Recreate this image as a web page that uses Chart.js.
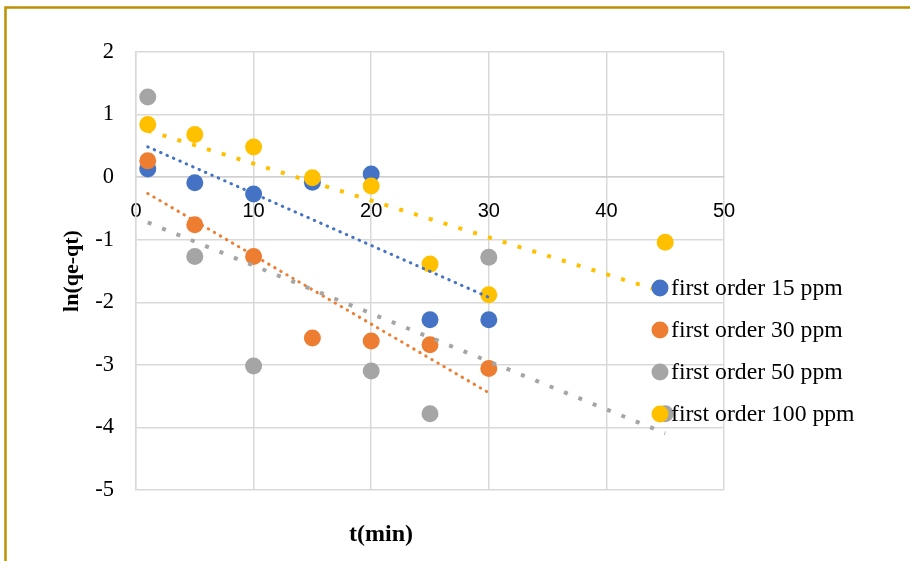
<!DOCTYPE html>
<html>
<head>
<meta charset="utf-8">
<script src="https://cdn.jsdelivr.net/npm/chart.js@4.4.0/dist/chart.umd.min.js"></script>
<style>
  html, body { margin: 0; padding: 0; background: #fff; }
  #wrap { width: 910px; height: 561px; position: relative; }
</style>
</head>
<body>
<div id="wrap"><canvas id="chart" width="910" height="561"></canvas></div>
<script>
/* First order kinetics - ln(qe-qt) vs t */
const seriesNames = ['first order 15 ppm', 'first order 30 ppm', 'first order 50 ppm', 'first order 100 ppm'];
const seriesColors = ['#4472C4', '#ED7D31', '#A5A5A5', '#FFC000'];

const time15 = [1, 5, 10, 15, 20, 25, 30];
const lnq15 = [0.13, -0.09, -0.27, -0.08, 0.05, -2.28, -2.28];

const time30 = [1, 5, 10, 15, 20, 25, 30];
const lnq30 = [0.26, -0.76, -1.27, -2.57, -2.62, -2.68, -3.06];

const time50 = [1, 5, 10, 20, 25, 30, 45];
const lnq50 = [1.28, -1.27, -3.02, -3.1, -3.78, -1.28, -3.78];

const time100 = [1, 5, 10, 15, 20, 25, 30, 45];
const lnq100 = [0.84, 0.68, 0.48, -0.01, -0.14, -1.39, -1.88, -1.04];

const xTicks = [0, 10, 20, 30, 40, 50];
const yTicks = [-5, -4, -3, -2, -1, 0, 1, 2];

const allTimes = [time15, time30, time50, time100];
const allLnq = [lnq15, lnq30, lnq50, lnq100];

// least squares line over the data range (Excel linear trendline)
function trend(xs, ys) {
    const n = xs.length;
    const mx = xs.reduce((a, b) => a + b, 0) / n;
    const my = ys.reduce((a, b) => a + b, 0) / n;
    let sxy = 0, sxx = 0;
    xs.forEach((x, i) => { sxy += (x - mx) * (ys[i] - my); sxx += (x - mx) * (x - mx); });
    const slope = sxy / sxx;
    const icpt = my - slope * mx;
    const x0 = Math.min(...xs), x1 = Math.max(...xs);
    return [{ x: x0, y: icpt + slope * x0 }, { x: x1, y: icpt + slope * x1 }];
}

const serif = '"Liberation Serif", "Times New Roman", serif';

const datasets = [];
seriesNames.forEach((name, i) => {
    datasets.push({
        label: name,
        data: allTimes[i].map((t, j) => ({ x: t, y: allLnq[i][j] })),
        backgroundColor: seriesColors[i],
        borderColor: seriesColors[i],
        pointRadius: 8.5,
        pointHoverRadius: 8.5,
        borderWidth: 0,
        showLine: false,
        order: 10 - i
    });
});
seriesNames.forEach((name, i) => {
    const square = i >= 2;
    datasets.push({
        label: 'trend ' + name,
        data: trend(allTimes[i], allLnq[i]),
        borderColor: seriesColors[i],
        borderWidth: square ? 4 : 3,
        borderDash: square ? [4, 11.5] : [0.5, 6.5],
        borderCapStyle: square ? 'butt' : 'round',
        pointRadius: 0,
        showLine: true,
        fill: false,
        order: 5 - i
    });
});

const decorPlugin = {
    id: 'decor',
    beforeDraw(chart) {
        const ctx = chart.ctx;
        ctx.save();
        ctx.fillStyle = '#fff';
        ctx.fillRect(0, 0, chart.width, chart.height);
        ctx.strokeStyle = '#BF9000';
        ctx.lineWidth = 2.5;
        ctx.beginPath();
        ctx.moveTo(5.5, chart.height);
        ctx.lineTo(5.5, 7.5);
        ctx.lineTo(chart.width, 7.5);
        ctx.stroke();
        ctx.restore();
    },
    afterDraw(chart) {
        const ctx = chart.ctx;
        ctx.save();
        // x title
        ctx.fillStyle = '#000';
        ctx.font = 'bold 24px ' + serif;
        ctx.textAlign = 'center';
        ctx.textBaseline = 'middle';
        ctx.fillText('t(min)', 381, 535);
        // legend
        ctx.font = '23.7px ' + serif;
        ctx.textAlign = 'left';
        seriesNames.forEach((name, i) => {
            const y = 288 + i * 42;
            ctx.fillStyle = seriesColors[i];
            ctx.beginPath();
            ctx.arc(660, y, 8.5, 0, Math.PI * 2);
            ctx.fill();
            ctx.fillStyle = '#000';
            ctx.fillText(name, 671, y + 1);
        });
        ctx.restore();
    }
};

new Chart(document.getElementById('chart'), {
    type: 'scatter',
    data: { datasets },
    plugins: [decorPlugin],
    options: {
        responsive: false,
        devicePixelRatio: 1,
        animation: false,
        layout: { padding: { left: 0, top: 52, right: 186, bottom: 71 } },
        plugins: {
            legend: { display: false },
            tooltip: { enabled: false }
        },
        scales: {
            x: {
                type: 'linear',
                position: { y: 0 },
                min: 0,
                max: 50,
                afterBuildTicks: s => { s.ticks = xTicks.map(v => ({ value: v })); },
                grid: { color: '#d9d9d9', lineWidth: 1.5, drawTicks: false },
                border: { color: '#d0d0d0', width: 1.5 },
                ticks: {
                    autoSkip: false,
                    maxRotation: 0,
                    padding: 22,
                    color: '#000',
                    font: { family: '"Liberation Sans", Arial, sans-serif', size: 20 }
                }
            },
            y: {
                type: 'linear',
                position: 'left',
                min: -5,
                max: 2,
                afterBuildTicks: s => { s.ticks = yTicks.map(v => ({ value: v })); },
                afterFit: s => { s.width = 136; },
                grid: { color: '#d9d9d9', lineWidth: 1.5, drawTicks: false },
                border: { color: '#d9d9d9', width: 1.5 },
                ticks: {
                    padding: 22,
                    color: '#000',
                    font: { family: serif, size: 22.5 }
                },
                title: {
                    display: true,
                    text: 'ln(qe-qt)',
                    color: '#000',
                    padding: { top: 59, bottom: 0 },
                    font: { family: serif, size: 22, weight: 'bold' }
                }
            }
        }
    }
});
</script>
</body>
</html>
